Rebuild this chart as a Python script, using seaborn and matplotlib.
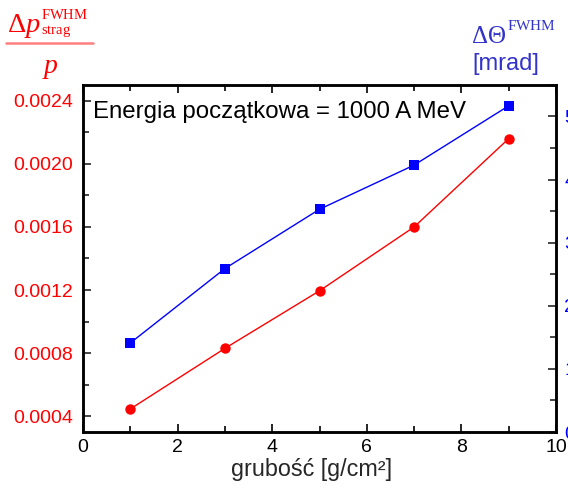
import matplotlib
matplotlib.use("Agg")
import matplotlib.pyplot as plt
import seaborn as sns
import pandas as pd
from matplotlib.lines import Line2D
from matplotlib.ticker import MultipleLocator, FuncFormatter

sns.set_theme(style="ticks")
plt.rcParams['font.family'] = ['Liberation Sans', 'DejaVu Sans']
plt.rcParams['mathtext.fontset'] = 'custom'
plt.rcParams['mathtext.rm'] = 'Liberation Serif'
plt.rcParams['mathtext.it'] = 'Liberation Serif:italic'

thickness = [1, 3, 5, 7, 9]
dp_over_p = [0.000446, 0.00083, 0.001195, 0.0016, 0.00216]
dtheta_mrad = [1.41, 2.59, 3.53, 4.23, 5.17]

df = pd.DataFrame({"x": thickness, "dp": dp_over_p, "dth": dtheta_mrad})

fig = plt.figure(figsize=(5.68, 4.93), dpi=100)
ax = fig.add_axes([0.146, 0.1237, 0.833, 0.704])
ax2 = ax.twinx()

sns.lineplot(data=df, x="x", y="dp", ax=ax, color="#ff0000", lw=1.0,
             marker="o", markersize=7.5, markeredgewidth=0, zorder=3)
sns.lineplot(data=df, x="x", y="dth", ax=ax2, color="#0000ff", lw=1.0,
             marker="s", markersize=7.5, markeredgewidth=0, zorder=3)

ax.set_xlim(0, 10)
ax.set_ylim(0.0003, 0.0025)
ax2.set_ylim(0, 5.5)

ax.xaxis.set_major_locator(MultipleLocator(2))
ax.xaxis.set_minor_locator(MultipleLocator(1))
ax.yaxis.set_major_locator(MultipleLocator(0.0004))
ax.yaxis.set_minor_locator(MultipleLocator(0.0002))
ax2.yaxis.set_major_locator(MultipleLocator(1))
ax2.yaxis.set_minor_locator(MultipleLocator(0.5))
ax.yaxis.set_major_formatter(FuncFormatter(lambda v, p: f"{v:.4f}"))

ax.tick_params(axis='x', which='both', direction='in', top=True, labelsize=14, pad=5, colors='black')
ax.tick_params(axis='x', which='major', length=6, width=1.2)
ax.tick_params(axis='x', which='minor', length=4, width=1.2)
ax.tick_params(axis='y', which='both', direction='in', labelsize=14, labelcolor='#ff0000', pad=7)
ax.tick_params(axis='y', which='major', length=6, width=1.2)
ax.tick_params(axis='y', which='minor', length=4, width=1.2)
ax2.tick_params(axis='y', which='both', direction='in', labelsize=14, labelcolor='#0000ff', pad=6)
ax2.tick_params(axis='y', which='major', length=6, width=1.2)
ax2.tick_params(axis='y', which='minor', length=4, width=1.2)

for a in (ax, ax2):
    for s in a.spines.values():
        s.set_linewidth(1.8)
        s.set_color('black')

ax.set_xlabel("grubość [g/cm²]", fontsize=16.8, labelpad=1)
ax.xaxis.set_label_coords(0.483, -0.075)
ax.set_ylabel("")
ax2.set_ylabel("")

ax.text(0.021, 0.922, "Energia początkowa = 1000 A MeV", transform=ax.transAxes,
        fontsize=17.3, ha='left', va='center', color='black')

# left label (fraction)
red = '#ff0000'
fig.text(0.0123, 0.935, r"$\Delta p$", color=red, fontsize=20.5, ha='left', va='baseline')
fig.text(0.072, 0.961, r"$\mathrm{FWHM}$", color=red, fontsize=10.5, ha='left', va='baseline')
fig.text(0.072, 0.932, r"$\mathrm{strag}$", color=red, fontsize=10.5, ha='left', va='baseline')
fig.add_artist(Line2D([0.0106, 0.163], [0.912, 0.912], transform=fig.transFigure,
                      color='#ff7f7f', lw=1.8))
fig.text(0.089, 0.852, r"$p$", color=red, fontsize=20, ha='center', va='baseline')

# right label
blue = '#3333cc'
fig.text(0.829, 0.913, r"$\Delta\Theta$", color=blue, fontsize=18, ha='left', va='baseline')
fig.text(0.892, 0.939, r"$\mathrm{FWHM}$", color=blue, fontsize=11, ha='left', va='baseline')
fig.text(0.831, 0.858, "[mrad]", color=blue, fontsize=17, ha='left', va='baseline')

fig.savefig("out.png", dpi=100)
